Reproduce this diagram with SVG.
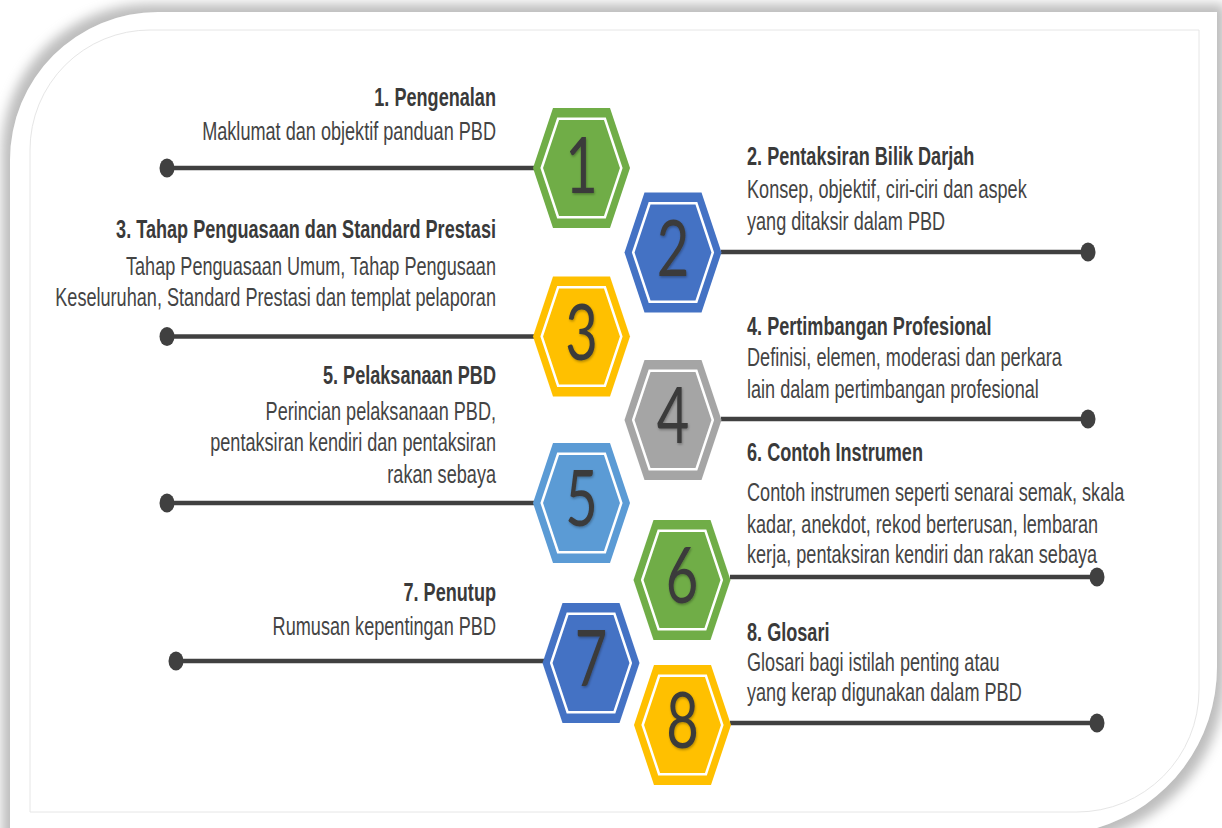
<svg xmlns="http://www.w3.org/2000/svg" xmlns:xlink="http://www.w3.org/1999/xlink" width="1222" height="828" viewBox="0 0 1222 828">
<style>
.t{font-family:"Liberation Sans",Arial,sans-serif;font-weight:bold;font-size:25.5px;fill:#3a3a3a}
.s{font-family:"Liberation Sans",Arial,sans-serif;font-size:25.5px;fill:#444}
.num{font-family:Lato,"Open Sans",sans-serif;font-size:78px;fill:#3b3b3b;text-anchor:middle}
.ln{stroke:#404040;stroke-width:4.5;fill:none}
.dot{fill:#404040}
.hi{fill:none;stroke:#fff;stroke-width:2.5}
</style>
<defs>
<filter id="sh" x="-5%" y="-5%" width="110%" height="110%">
<feMorphology in="SourceAlpha" operator="dilate" radius="8" result="d"/>
<feGaussianBlur in="d" stdDeviation="6" result="b"/>
<feFlood flood-color="#bdbdbd"/>
<feComposite in2="b" operator="in" result="s"/>
<feMerge><feMergeNode in="s"/><feMergeNode in="SourceGraphic"/></feMerge>
</filter>
<filter id="ts" x="-20%" y="-20%" width="140%" height="140%">
<feDropShadow dx="1" dy="1.5" stdDeviation="1.2" flood-color="#000" flood-opacity="0.3"/>
</filter>
<polygon id="hexO" points="-48.5,0 -28.5,-60 28.5,-60 48.5,0 28.5,60 -28.5,60"/>
<polygon id="hexI" points="-39.8,0 -23.4,-49.2 23.4,-49.2 39.8,0 23.4,49.2 -23.4,49.2"/>
</defs>
<rect width="1222" height="828" fill="#fff"/>
<path d="M10,840 L10,160 A148,148 0 0 1 158,12 L1217,12 L1217,667 A168,168 0 0 1 1097,828 L1097,840 Z" fill="#fff" filter="url(#sh)"/>
<path d="M30,812 L30,150 A120,120 0 0 1 150,30 L1199,30 L1199,690 A122,122 0 0 1 1077,812 Z" fill="none" stroke="#e6e6e6" stroke-width="1"/>

<g id="connectors">
<line class="ln" x1="167" y1="168" x2="534" y2="168"/><ellipse class="dot" cx="167" cy="168" rx="7.5" ry="9.5"/>
<line class="ln" x1="721" y1="252" x2="1088" y2="252"/><ellipse class="dot" cx="1088" cy="252" rx="7.5" ry="9.5"/>
<line class="ln" x1="167" y1="336.5" x2="534" y2="336.5"/><ellipse class="dot" cx="167" cy="336.5" rx="7.5" ry="9.5"/>
<line class="ln" x1="721" y1="419" x2="1088" y2="419"/><ellipse class="dot" cx="1088" cy="419" rx="7.5" ry="9.5"/>
<line class="ln" x1="167" y1="503" x2="534" y2="503"/><ellipse class="dot" cx="167" cy="503" rx="7.5" ry="9.5"/>
<line class="ln" x1="730" y1="577" x2="1097" y2="577"/><ellipse class="dot" cx="1097" cy="577" rx="7.5" ry="9.5"/>
<line class="ln" x1="176" y1="661" x2="544" y2="661"/><ellipse class="dot" cx="176" cy="661" rx="7.5" ry="9.5"/>
<line class="ln" x1="730" y1="723" x2="1097" y2="723"/><ellipse class="dot" cx="1097" cy="723" rx="7.5" ry="9.5"/>
</g>

<g id="n1">
<g transform="translate(581.5,168)"><use xlink:href="#hexO" fill="#70AD47"/><use xlink:href="#hexI" class="hi"/><text class="num" transform="scale(0.72,1)" x="0" y="25" filter="url(#ts)">1</text></g>
<g transform="translate(496,0) scale(0.71,1)" text-anchor="end"><text class="t" x="0" y="106">1. Pengenalan</text><text class="s" x="0" y="140">Maklumat dan objektif panduan PBD</text></g>
</g>
<g id="n2">
<g transform="translate(673,252.5)"><use xlink:href="#hexO" fill="#4472C4"/><use xlink:href="#hexI" class="hi"/><text class="num" transform="scale(0.72,1)" x="0" y="23" filter="url(#ts)">2</text></g>
<g transform="translate(747,0) scale(0.71,1)"><text class="t" x="0" y="165">2. Pentaksiran Bilik Darjah</text><text class="s" x="0" y="198">Konsep, objektif, ciri-ciri dan aspek</text><text class="s" x="0" y="230">yang ditaksir dalam PBD</text></g>
</g>
<g id="n3">
<g transform="translate(581.5,336.5)"><use xlink:href="#hexO" fill="#FFC000"/><use xlink:href="#hexI" class="hi"/><text class="num" transform="scale(0.72,1)" x="0" y="23" filter="url(#ts)">3</text></g>
<g transform="translate(496,0) scale(0.71,1)" text-anchor="end"><text class="t" x="0" y="238">3. Tahap Penguasaan dan Standard Prestasi</text><text class="s" x="0" y="275">Tahap Penguasaan Umum, Tahap Pengusaan</text><text class="s" x="0" y="306.5">Keseluruhan, Standard Prestasi dan templat pelaporan</text></g>
</g>
<g id="n4">
<g transform="translate(673,420)"><use xlink:href="#hexO" fill="#A5A5A5"/><use xlink:href="#hexI" class="hi"/><text class="num" transform="scale(0.72,1)" x="0" y="23" filter="url(#ts)">4</text></g>
<g transform="translate(747,0) scale(0.71,1)"><text class="t" x="0" y="335">4. Pertimbangan Profesional</text><text class="s" x="0" y="366.5">Definisi, elemen, moderasi dan perkara</text><text class="s" x="0" y="398">lain dalam pertimbangan profesional</text></g>
</g>
<g id="n5">
<g transform="translate(581.5,503)"><use xlink:href="#hexO" fill="#5B9BD5"/><use xlink:href="#hexI" class="hi"/><text class="num" transform="scale(0.72,1)" x="0" y="23" filter="url(#ts)">5</text></g>
<g transform="translate(496,0) scale(0.71,1)" text-anchor="end"><text class="t" x="0" y="384">5. Pelaksanaan PBD</text><text class="s" x="0" y="420.5">Perincian pelaksanaan PBD,</text><text class="s" x="0" y="451.5">pentaksiran kendiri dan pentaksiran</text><text class="s" x="0" y="483">rakan sebaya</text></g>
</g>
<g id="n6">
<g transform="translate(682,580)"><use xlink:href="#hexO" fill="#70AD47"/><use xlink:href="#hexI" class="hi"/><text class="num" transform="scale(0.72,1)" x="0" y="23" filter="url(#ts)">6</text></g>
<g transform="translate(747,0) scale(0.71,1)"><text class="t" x="0" y="461.5">6. Contoh Instrumen</text><text class="s" x="0" y="501.5">Contoh instrumen seperti senarai semak, skala</text><text class="s" x="0" y="533">kadar, anekdot, rekod berterusan, lembaran</text><text class="s" x="0" y="563">kerja, pentaksiran kendiri dan rakan sebaya</text></g>
</g>
<g id="n7">
<g transform="translate(591,663)"><use xlink:href="#hexO" fill="#4472C4"/><use xlink:href="#hexI" class="hi"/><text class="num" transform="scale(0.72,1)" x="0" y="23" filter="url(#ts)">7</text></g>
<g transform="translate(496,0) scale(0.71,1)" text-anchor="end"><text class="t" x="0" y="601">7. Penutup</text><text class="s" x="0" y="635">Rumusan kepentingan PBD</text></g>
</g>
<g id="n8">
<g transform="translate(682.5,725)"><use xlink:href="#hexO" fill="#FFC000"/><use xlink:href="#hexI" class="hi"/><text class="num" transform="scale(0.72,1)" x="0" y="23" filter="url(#ts)">8</text></g>
<g transform="translate(747,0) scale(0.71,1)"><text class="t" x="0" y="641">8. Glosari</text><text class="s" x="0" y="671.5">Glosari bagi istilah penting atau</text><text class="s" x="0" y="701.5">yang kerap digunakan dalam PBD</text></g>
</g>
</svg>
